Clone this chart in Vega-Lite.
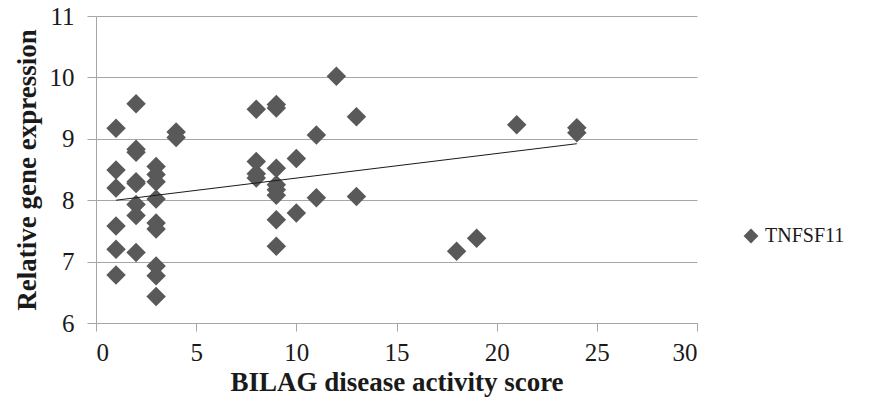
{
  "$schema": "https://vega.github.io/schema/vega-lite/v6.json",
  "autosize": "none",
  "width": 601,
  "height": 307,
  "padding": {"left": 96, "top": 16, "right": 176, "bottom": 84},
  "background": "white",
  "config": {
    "view": {"stroke": null},
    "font": "Liberation Serif"
  },
  "datasets": {
    "points": [
      {"score": 1, "expr": 9.17, "series": "TNFSF11"},
      {"score": 1, "expr": 8.49, "series": "TNFSF11"},
      {"score": 1, "expr": 8.2, "series": "TNFSF11"},
      {"score": 1, "expr": 7.58, "series": "TNFSF11"},
      {"score": 1, "expr": 7.2, "series": "TNFSF11"},
      {"score": 1, "expr": 6.78, "series": "TNFSF11"},
      {"score": 2, "expr": 9.57, "series": "TNFSF11"},
      {"score": 2, "expr": 8.83, "series": "TNFSF11"},
      {"score": 2, "expr": 8.78, "series": "TNFSF11"},
      {"score": 2, "expr": 8.3, "series": "TNFSF11"},
      {"score": 2, "expr": 8.27, "series": "TNFSF11"},
      {"score": 2, "expr": 7.93, "series": "TNFSF11"},
      {"score": 2, "expr": 7.75, "series": "TNFSF11"},
      {"score": 2, "expr": 7.15, "series": "TNFSF11"},
      {"score": 3, "expr": 8.55, "series": "TNFSF11"},
      {"score": 3, "expr": 8.42, "series": "TNFSF11"},
      {"score": 3, "expr": 8.3, "series": "TNFSF11"},
      {"score": 3, "expr": 8.02, "series": "TNFSF11"},
      {"score": 3, "expr": 7.63, "series": "TNFSF11"},
      {"score": 3, "expr": 7.53, "series": "TNFSF11"},
      {"score": 3, "expr": 6.93, "series": "TNFSF11"},
      {"score": 3, "expr": 6.77, "series": "TNFSF11"},
      {"score": 3, "expr": 6.43, "series": "TNFSF11"},
      {"score": 4, "expr": 9.11, "series": "TNFSF11"},
      {"score": 4, "expr": 9.02, "series": "TNFSF11"},
      {"score": 8, "expr": 9.48, "series": "TNFSF11"},
      {"score": 8, "expr": 8.63, "series": "TNFSF11"},
      {"score": 8, "expr": 8.43, "series": "TNFSF11"},
      {"score": 8, "expr": 8.36, "series": "TNFSF11"},
      {"score": 9, "expr": 9.56, "series": "TNFSF11"},
      {"score": 9, "expr": 9.5, "series": "TNFSF11"},
      {"score": 9, "expr": 8.52, "series": "TNFSF11"},
      {"score": 9, "expr": 8.25, "series": "TNFSF11"},
      {"score": 9, "expr": 8.17, "series": "TNFSF11"},
      {"score": 9, "expr": 8.08, "series": "TNFSF11"},
      {"score": 9, "expr": 7.68, "series": "TNFSF11"},
      {"score": 9, "expr": 7.25, "series": "TNFSF11"},
      {"score": 10, "expr": 8.68, "series": "TNFSF11"},
      {"score": 10, "expr": 7.79, "series": "TNFSF11"},
      {"score": 11, "expr": 9.06, "series": "TNFSF11"},
      {"score": 11, "expr": 8.04, "series": "TNFSF11"},
      {"score": 12, "expr": 10.02, "series": "TNFSF11"},
      {"score": 13, "expr": 9.36, "series": "TNFSF11"},
      {"score": 13, "expr": 8.06, "series": "TNFSF11"},
      {"score": 18, "expr": 7.17, "series": "TNFSF11"},
      {"score": 19, "expr": 7.38, "series": "TNFSF11"},
      {"score": 21, "expr": 9.23, "series": "TNFSF11"},
      {"score": 24, "expr": 9.18, "series": "TNFSF11"},
      {"score": 24, "expr": 9.1, "series": "TNFSF11"}
    ],
    "trend": [
      {"score": 1, "expr": 8.0},
      {"score": 24, "expr": 8.92}
    ]
  },
  "layer": [
    {
      "data": {"name": "points"},
      "mark": {"type": "point", "shape": "diamond", "filled": true, "size": 380, "opacity": 1},
      "encoding": {
        "x": {
          "field": "score", "type": "quantitative",
          "scale": {"domain": [0, 30], "nice": false},
          "axis": {
            "title": "BILAG disease activity score",
            "values": [0, 5, 10, 15, 20, 25, 30],
            "format": "d",
            "grid": false,
            "domainColor": "#a6a6a6",
            "tickColor": "#a6a6a6",
            "tickSize": 8,
            "labelFont": "Liberation Serif",
            "labelFontSize": 25,
            "labelColor": "#1a1a1a",
            "labelPadding": 9,
            "titleFont": "Liberation Serif",
            "titleFontSize": 27,
            "titleFontWeight": "bold",
            "titleColor": "#1a1a1a",
            "titlePadding": 4
          }
        },
        "y": {
          "field": "expr", "type": "quantitative",
          "scale": {"domain": [6, 11], "nice": false, "zero": false},
          "axis": {
            "title": "Relative gene expression",
            "values": [6, 7, 8, 9, 10, 11],
            "format": "d",
            "grid": true,
            "gridColor": "#a6a6a6",
            "domainColor": "#a6a6a6",
            "tickColor": "#a6a6a6",
            "tickSize": 9,
            "labelFont": "Liberation Serif",
            "labelFontSize": 25,
            "labelColor": "#1a1a1a",
            "labelPadding": 13,
            "titleFont": "Liberation Serif",
            "titleFontSize": 27,
            "titleFontWeight": "bold",
            "titleColor": "#1a1a1a",
            "titlePadding": 8
          }
        },
        "color": {
          "field": "series", "type": "nominal",
          "scale": {"range": ["#595959"]},
          "legend": {
            "title": null,
            "orient": "none",
            "legendX": 645,
            "legendY": 210,
            "symbolType": "diamond",
            "symbolSize": 220,
            "symbolStrokeWidth": 0,
            "labelFont": "Liberation Serif",
            "labelFontSize": 20,
            "labelColor": "#1a1a1a"
          }
        }
      }
    },
    {
      "data": {"name": "trend"},
      "mark": {"type": "line", "color": "#1a1a1a", "strokeWidth": 1},
      "encoding": {
        "x": {"field": "score", "type": "quantitative"},
        "y": {"field": "expr", "type": "quantitative"}
      }
    }
  ]
}
